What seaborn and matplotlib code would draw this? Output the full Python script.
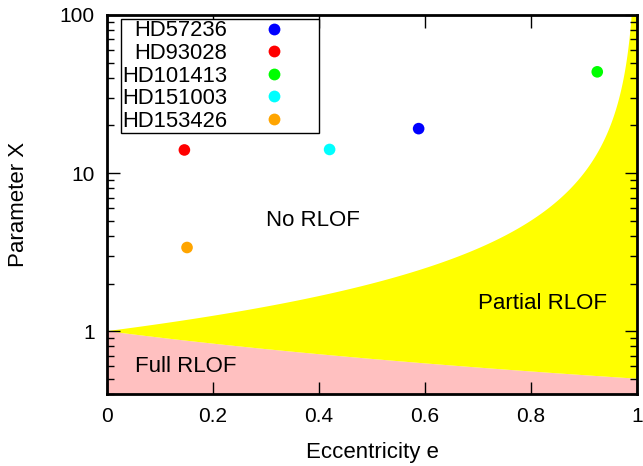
import numpy as np
import pandas as pd
import matplotlib
matplotlib.use("Agg")
import matplotlib.pyplot as plt
import matplotlib.ticker as mticker
import seaborn as sns

# Observed systems: eccentricity and parameter X
stars = ["HD57236", "HD93028", "HD101413", "HD151003", "HD153426"]
ecc = [0.588, 0.146, 0.925, 0.420, 0.151]
param_x = [19.1, 14.0, 43.7, 14.1, 3.38]
star_colors = ["#0000ff", "#ff0000", "#00ff00", "#00ffff", "#ffa500"]

x_ticks = [0, 0.2, 0.4, 0.6, 0.8, 1]
x_tick_labels = ["0", "0.2", "0.4", "0.6", "0.8", "1"]
y_ticks = [1, 10, 100]
y_tick_labels = ["1", "10", "100"]

df = pd.DataFrame({"star": stars, "e": ecc, "X": param_x})

sns.set_style("ticks")
plt.rcParams["font.family"] = ["Liberation Sans", "DejaVu Sans"]
plt.rcParams["text.color"] = "black"
plt.rcParams["axes.labelcolor"] = "black"
plt.rcParams["xtick.color"] = "black"
plt.rcParams["ytick.color"] = "black"

fig = plt.figure(figsize=(6.43, 4.66), dpi=100)
ax = fig.add_axes([107 / 643, 72 / 466, 530 / 643, 379 / 466])

# Roche-lobe overflow regimes: full below 1/(1+e), partial up to 1/(1-e)
e_grid = np.linspace(0.0, 1.0, 4001)
lower = 1.0 / (1.0 + e_grid)
upper = np.minimum(1.0 / np.clip(1.0 - e_grid, 1e-6, None), 1e4)
ax.fill_between(e_grid, 1e-3, lower, color="#ffc0c0", linewidth=0, zorder=0)
ax.fill_between(e_grid, lower, upper, color="#ffff00", linewidth=0, zorder=0)

sns.scatterplot(data=df, x="e", y="X", hue="star", hue_order=stars,
                palette=star_colors, s=70, edgecolor="none", ax=ax, zorder=3)

ax.set_yscale("log")
ax.set_xlim(0, 1)
ax.set_ylim(0.4, 100)
ax.set_xticks(x_ticks)
ax.set_xticklabels(x_tick_labels)
ax.set_yticks(y_ticks)
ax.set_yticklabels(y_tick_labels)
ax.yaxis.set_minor_locator(mticker.LogLocator(base=10, subs=np.arange(2, 10)))
ax.yaxis.set_minor_formatter(mticker.NullFormatter())

ax.tick_params(which="both", direction="in", top=True, right=True,
               labelsize=15, colors="black", width=1.0)
ax.tick_params(which="major", length=9, pad=9)
ax.tick_params(which="minor", length=5)
for sp in ax.spines.values():
    sp.set_linewidth(2.0)
    sp.set_color("black")
    sp.set_zorder(5)

ax.set_xlabel("Eccentricity e", fontsize=16, labelpad=12)
ax.set_ylabel("Parameter X", fontsize=16)
ax.yaxis.set_label_coords(-0.147, 0.5)

ax.text(0.30, 5.0, "No RLOF", fontsize=16, va="center", ha="left")
ax.text(0.70, 1.49, "Partial RLOF", fontsize=16, va="center", ha="left")
ax.text(0.052, 0.60, "Full RLOF", fontsize=16, va="center", ha="left")

leg = ax.legend(loc="upper left", bbox_to_anchor=(0.026, 0.989), frameon=True,
                fancybox=False, framealpha=1, edgecolor="black", fontsize=15.8,
                markerfirst=False, borderpad=0.06, borderaxespad=0,
                handlelength=3.9, handletextpad=0.2, labelspacing=0.07,
                title=None)
leg.get_frame().set_linewidth(1.0)
for h in leg.legend_handles:
    if hasattr(h, "set_markersize"):
        h.set_markersize(8.5)
        h.set_markeredgewidth(0)

fig.savefig("out.png", dpi=100)
